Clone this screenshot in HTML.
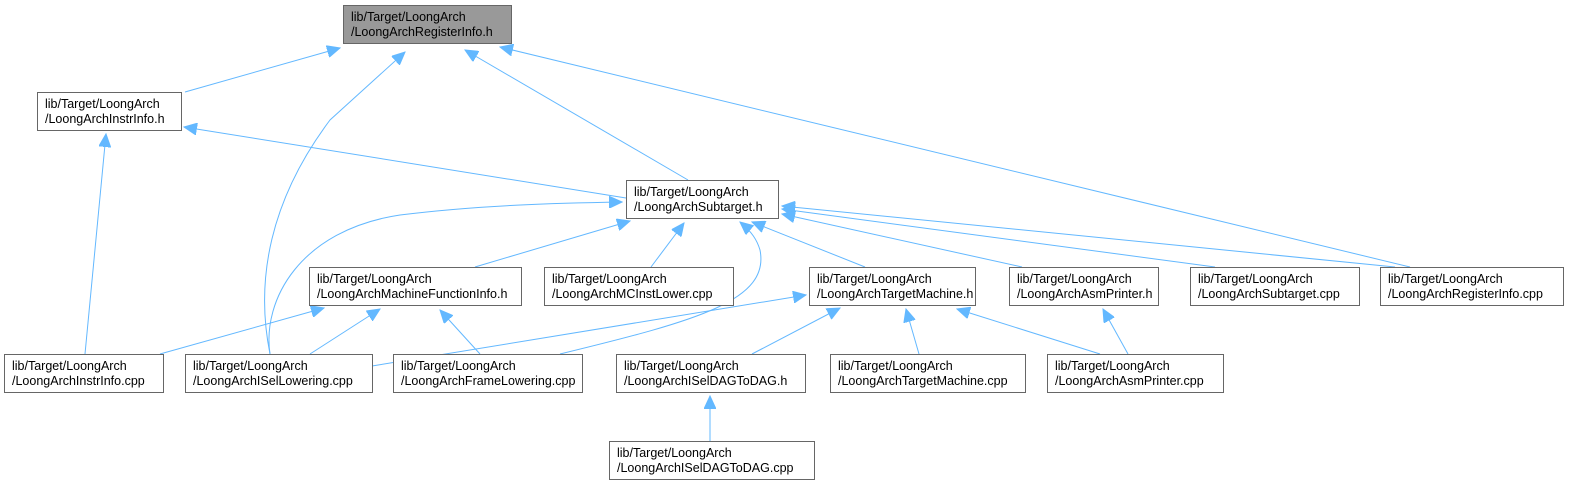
<!DOCTYPE html>
<html><head><meta charset="utf-8"><style>
html,body{margin:0;padding:0;background:#fff;width:1593px;height:495px;overflow:hidden}
text{font-family:"Liberation Sans",Arial,sans-serif;font-size:12.5px;fill:#000}
rect{fill:#fff;stroke:#666;stroke-width:1}
path{fill:none;stroke:#63b8ff;stroke-width:1}
</style></head><body>
<svg width="1593" height="495" viewBox="0 0 1593 495" xmlns="http://www.w3.org/2000/svg">
<defs><marker id="a" markerWidth="14" markerHeight="12" refX="13" refY="6" orient="auto" markerUnits="userSpaceOnUse"><path d="M0,0 L13,6 L0,12 Z" style="fill:#63b8ff;stroke:#63b8ff"/></marker></defs>
<g>
<path d="M185,92 L340,48" marker-end="url(#a)"/>
<path d="M270,354 C255,280 270,200 330,120 L405,52" marker-end="url(#a)"/>
<path d="M688,180 L465,50" marker-end="url(#a)"/>
<path d="M1410,267 L500,47" marker-end="url(#a)"/>
<path d="M626,198 L184,127" marker-end="url(#a)"/>
<path d="M85,354 L106,134" marker-end="url(#a)"/>
<path d="M270,354 C262,300 300,230 400,215 C480,205 560,203 622,202" marker-end="url(#a)"/>
<path d="M475,267 L630,221" marker-end="url(#a)"/>
<path d="M651,267 L684,223" marker-end="url(#a)"/>
<path d="M560,354 C700,320 770,300 760,250 C757,240 752,232 740,222" marker-end="url(#a)"/>
<path d="M865,267 L752,222" marker-end="url(#a)"/>
<path d="M1022,267 L782,214" marker-end="url(#a)"/>
<path d="M1215,267 L782,209" marker-end="url(#a)"/>
<path d="M1395,267 L782,206" marker-end="url(#a)"/>
<path d="M160,354 L324,308" marker-end="url(#a)"/>
<path d="M310,354 L380,309" marker-end="url(#a)"/>
<path d="M480,354 L440,310" marker-end="url(#a)"/>
<path d="M372,366 L806,295" marker-end="url(#a)"/>
<path d="M752,354 L840,308" marker-end="url(#a)"/>
<path d="M919,354 L906,309" marker-end="url(#a)"/>
<path d="M1100,354 L957,309" marker-end="url(#a)"/>
<path d="M1128,354 L1103,309" marker-end="url(#a)"/>
<path d="M710,441 L710,396" marker-end="url(#a)"/>
</g>
<g>
<rect x="343.5" y="5.5" width="168" height="38" style="fill:#999"/><text x="351" y="21">lib/Target/LoongArch</text><text x="351" y="36">/LoongArchRegisterInfo.h</text>
<rect x="37.5" y="92.5" width="144" height="38"/><text x="45" y="108">lib/Target/LoongArch</text><text x="45" y="123">/LoongArchInstrInfo.h</text>
<rect x="626.5" y="180.5" width="152" height="38"/><text x="634" y="196">lib/Target/LoongArch</text><text x="634" y="211">/LoongArchSubtarget.h</text>
<rect x="309.5" y="267.5" width="212" height="38"/><text x="317" y="283">lib/Target/LoongArch</text><text x="317" y="298">/LoongArchMachineFunctionInfo.h</text>
<rect x="544.5" y="267.5" width="189" height="38"/><text x="552" y="283">lib/Target/LoongArch</text><text x="552" y="298">/LoongArchMCInstLower.cpp</text>
<rect x="809.5" y="267.5" width="166" height="38"/><text x="817" y="283">lib/Target/LoongArch</text><text x="817" y="298">/LoongArchTargetMachine.h</text>
<rect x="1009.5" y="267.5" width="149" height="38"/><text x="1017" y="283">lib/Target/LoongArch</text><text x="1017" y="298">/LoongArchAsmPrinter.h</text>
<rect x="1190.5" y="267.5" width="169" height="38"/><text x="1198" y="283">lib/Target/LoongArch</text><text x="1198" y="298">/LoongArchSubtarget.cpp</text>
<rect x="1380.5" y="267.5" width="183" height="38"/><text x="1388" y="283">lib/Target/LoongArch</text><text x="1388" y="298">/LoongArchRegisterInfo.cpp</text>
<rect x="4.5" y="354.5" width="159" height="38"/><text x="12" y="370">lib/Target/LoongArch</text><text x="12" y="385">/LoongArchInstrInfo.cpp</text>
<rect x="185.5" y="354.5" width="187" height="38"/><text x="193" y="370">lib/Target/LoongArch</text><text x="193" y="385">/LoongArchISelLowering.cpp</text>
<rect x="393.5" y="354.5" width="189" height="38"/><text x="401" y="370">lib/Target/LoongArch</text><text x="401" y="385">/LoongArchFrameLowering.cpp</text>
<rect x="616.5" y="354.5" width="189" height="38"/><text x="624" y="370">lib/Target/LoongArch</text><text x="624" y="385">/LoongArchISelDAGToDAG.h</text>
<rect x="830.5" y="354.5" width="195" height="38"/><text x="838" y="370">lib/Target/LoongArch</text><text x="838" y="385">/LoongArchTargetMachine.cpp</text>
<rect x="1047.5" y="354.5" width="176" height="38"/><text x="1055" y="370">lib/Target/LoongArch</text><text x="1055" y="385">/LoongArchAsmPrinter.cpp</text>
<rect x="609.5" y="441.5" width="205" height="38"/><text x="617" y="457">lib/Target/LoongArch</text><text x="617" y="472">/LoongArchISelDAGToDAG.cpp</text>
</g>
</svg>
</body></html>
